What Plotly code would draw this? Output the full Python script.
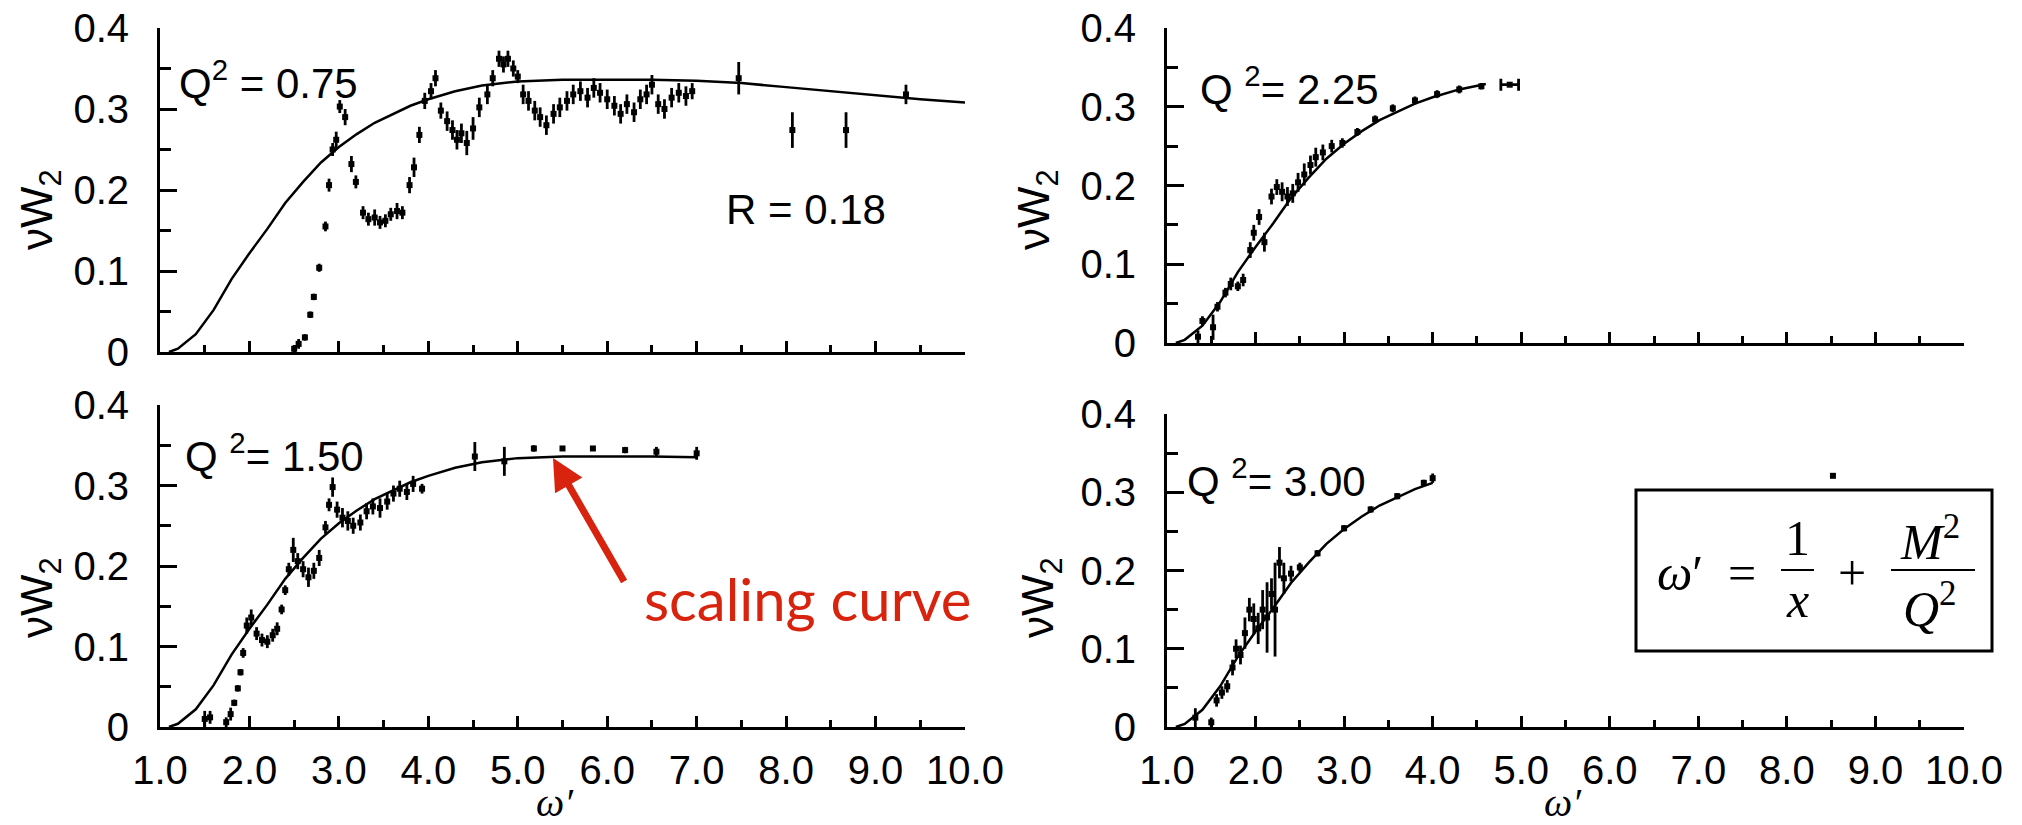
import plotly.graph_objects as go
from plotly.subplots import make_subplots

# universal scaling curve nuW2(omega')
curve_w = [1.10, 1.20, 1.40, 1.60, 1.80, 2.00, 2.20, 2.40, 2.60, 2.80, 3.00, 3.20, 3.40, 3.60,
           3.80, 4.00, 4.30, 4.60, 5.00, 5.50, 6.00, 6.50, 7.00, 7.50, 8.00, 8.50, 9.00, 9.50, 10.00]
curve_f = [0.000, 0.004, 0.022, 0.052, 0.090, 0.122, 0.152, 0.184, 0.210, 0.234, 0.253, 0.269, 0.283, 0.294,
           0.304, 0.312, 0.322, 0.329, 0.334, 0.336, 0.336, 0.336, 0.335, 0.332, 0.327, 0.322, 0.317, 0.312, 0.308]

# Q2 = 0.75
w075 = [2.50, 2.55, 2.62, 2.68, 2.72, 2.78, 2.85, 2.89, 2.93, 2.97, 3.01, 3.07, 3.14, 3.19, 3.27, 3.33,
        3.40, 3.46, 3.52, 3.58, 3.65, 3.71, 3.79, 3.84, 3.90, 3.96, 4.03, 4.08, 4.14, 4.21, 4.27, 4.32,
        4.37, 4.43, 4.50, 4.57, 4.66, 4.72, 4.79, 4.84, 4.89, 4.95, 5.00, 5.06, 5.12, 5.19, 5.25, 5.32,
        5.40, 5.47, 5.55, 5.62, 5.70, 5.78, 5.85, 5.92, 6.00, 6.08, 6.15, 6.22, 6.30, 6.37, 6.44, 6.50,
        6.57, 6.64, 6.72, 6.80, 6.88, 6.95, 7.47, 8.07, 8.67, 9.34]
f075 = [0.004, 0.010, 0.018, 0.046, 0.068, 0.104, 0.155, 0.206, 0.250, 0.262, 0.303, 0.290, 0.232, 0.210,
        0.172, 0.164, 0.166, 0.160, 0.162, 0.170, 0.174, 0.172, 0.206, 0.228, 0.268, 0.310, 0.322, 0.338,
        0.298, 0.285, 0.274, 0.262, 0.270, 0.258, 0.276, 0.302, 0.318, 0.338, 0.362, 0.355, 0.362, 0.350,
        0.340, 0.318, 0.310, 0.298, 0.290, 0.280, 0.294, 0.302, 0.310, 0.318, 0.322, 0.314, 0.326, 0.320,
        0.312, 0.304, 0.294, 0.306, 0.296, 0.312, 0.318, 0.330, 0.306, 0.300, 0.314, 0.320, 0.316, 0.322,
        0.338, 0.274, 0.274, 0.318]
e075 = [0.004, 0.006, 0.004, 0.004, 0.004, 0.005, 0.006, 0.008, 0.008, 0.010, 0.008, 0.010, 0.010, 0.008,
        0.008, 0.008, 0.010, 0.008, 0.008, 0.008, 0.010, 0.008, 0.010, 0.012, 0.010, 0.010, 0.010, 0.010,
        0.010, 0.012, 0.012, 0.012, 0.012, 0.015, 0.014, 0.012, 0.012, 0.010, 0.010, 0.010, 0.010, 0.010,
        0.008, 0.012, 0.012, 0.012, 0.012, 0.012, 0.012, 0.012, 0.012, 0.012, 0.012, 0.012, 0.012, 0.012,
        0.012, 0.012, 0.012, 0.012, 0.012, 0.012, 0.012, 0.012, 0.012, 0.012, 0.012, 0.012, 0.012, 0.010,
        0.020, 0.022, 0.022, 0.012]

# Q2 = 2.25
w225 = [1.35, 1.40, 1.52, 1.57, 1.66, 1.72, 1.80, 1.86, 1.94, 1.98, 2.04, 2.10, 2.18, 2.24, 2.30, 2.36,
        2.42, 2.48, 2.55, 2.62, 2.68, 2.76, 2.86, 2.98, 3.15, 3.35, 3.55, 3.80, 4.05, 4.30, 4.55]
f225 = [0.008, 0.028, 0.020, 0.046, 0.064, 0.075, 0.072, 0.080, 0.118, 0.140, 0.160, 0.128, 0.186, 0.198,
        0.192, 0.186, 0.190, 0.204, 0.214, 0.226, 0.236, 0.242, 0.250, 0.254, 0.268, 0.284, 0.298, 0.308,
        0.316, 0.322, 0.326]
e225 = [0.008, 0.006, 0.016, 0.006, 0.006, 0.008, 0.006, 0.008, 0.010, 0.010, 0.010, 0.012, 0.010, 0.010,
        0.012, 0.012, 0.012, 0.012, 0.014, 0.012, 0.012, 0.010, 0.008, 0.006, 0.005, 0.005, 0.005, 0.005,
        0.005, 0.005, 0.004]
w225_last, f225_last, ex225_last = [4.87], [0.328], [0.10]

# Q2 = 1.50
w150 = [1.50, 1.56, 1.74, 1.79, 1.83, 1.87, 1.90, 1.93, 1.97, 2.02, 2.08, 2.14, 2.20, 2.26, 2.31, 2.36,
        2.40, 2.44, 2.49, 2.54, 2.60, 2.66, 2.72, 2.78, 2.85, 2.89, 2.93, 2.98, 3.04, 3.10, 3.16, 3.24,
        3.31, 3.38, 3.46, 3.54, 3.61, 3.68, 3.76, 3.83, 3.93, 4.52, 4.85, 5.18, 5.50, 5.84, 6.20, 6.55, 7.00]
f150 = [0.010, 0.012, 0.006, 0.016, 0.030, 0.048, 0.068, 0.092, 0.126, 0.136, 0.116, 0.108, 0.106, 0.114,
        0.122, 0.146, 0.170, 0.196, 0.220, 0.206, 0.196, 0.186, 0.194, 0.210, 0.248, 0.276, 0.298, 0.270,
        0.260, 0.256, 0.250, 0.254, 0.268, 0.274, 0.272, 0.280, 0.290, 0.296, 0.292, 0.302, 0.296, 0.336,
        0.330, 0.346, 0.346, 0.346, 0.344, 0.342, 0.340]
e150 = [0.010, 0.008, 0.006, 0.008, 0.004, 0.004, 0.004, 0.006, 0.010, 0.010, 0.008, 0.008, 0.008, 0.008,
        0.008, 0.006, 0.006, 0.008, 0.015, 0.010, 0.010, 0.012, 0.010, 0.010, 0.008, 0.008, 0.012, 0.010,
        0.012, 0.012, 0.010, 0.010, 0.010, 0.010, 0.012, 0.010, 0.010, 0.010, 0.010, 0.010, 0.006, 0.018,
        0.018, 0.004, 0.003, 0.003, 0.004, 0.006, 0.008]

# Q2 = 3.00
w300 = [1.32, 1.50, 1.56, 1.62, 1.68, 1.74, 1.78, 1.83, 1.88, 1.93, 1.98, 2.03, 2.08, 2.13, 2.18, 2.22,
        2.27, 2.32, 2.40, 2.50, 2.70, 3.00, 3.30, 3.60, 3.90, 4.00, 8.52]
f300 = [0.012, 0.006, 0.034, 0.044, 0.052, 0.076, 0.100, 0.092, 0.120, 0.150, 0.138, 0.126, 0.150, 0.140,
        0.170, 0.150, 0.210, 0.190, 0.196, 0.204, 0.222, 0.254, 0.278, 0.295, 0.312, 0.318, 0.321]
e300 = [0.012, 0.006, 0.008, 0.008, 0.008, 0.010, 0.012, 0.012, 0.020, 0.015, 0.020, 0.020, 0.025, 0.045,
        0.020, 0.060, 0.020, 0.020, 0.010, 0.006, 0.004, 0.004, 0.004, 0.004, 0.004, 0.006, 0.0]

panels = [
    # row, col, data x, y, err, where the curve stops
    (1, 1, w075, f075, e075, 10.0),
    (1, 2, w225, f225, e225, 4.75),
    (2, 1, w150, f150, e150, 7.0),
    (2, 2, w300, f300, e300, 4.0),
]

fig = make_subplots(rows=2, cols=2)

for row, col, wx, fy, ey, wend in panels:
    cw = [w for w in curve_w if w <= wend]
    cf = curve_f[:len(cw)]
    fig.add_trace(go.Scatter(x=cw, y=cf, mode='lines', line=dict(color='black', width=2.5),
                             showlegend=False, cliponaxis=False), row=row, col=col)
    fig.add_trace(go.Scatter(x=wx, y=fy, mode='markers',
                             marker=dict(color='black', size=6, symbol='square'),
                             error_y=dict(type='data', array=ey, visible=True, thickness=2.8, width=0, color='black'),
                             showlegend=False, cliponaxis=False), row=row, col=col)

fig.add_trace(go.Scatter(x=w225_last, y=f225_last, mode='markers',
                         marker=dict(color='black', size=6, symbol='square'),
                         error_x=dict(type='data', array=ex225_last, visible=True, thickness=2.8, width=6, color='black'),
                         showlegend=False, cliponaxis=False), row=1, col=2)

W, H = 2022, 825
def px(x): return x / W
def py(y): return 1 - y / H

font_sans = 'Liberation Sans, Arial, sans-serif'
font_serif = 'Liberation Serif, Times New Roman, serif'

xdom = {1: [px(160), px(965)], 2: [px(1167), px(1964)]}
ydom = {(1, 1): [py(352), py(28)], (1, 2): [py(343), py(28)],
        (2, 1): [py(727), py(405)], (2, 2): [py(727), py(414)]}

xlabels = ['1.0', '2.0', '3.0', '4.0', '5.0', '6.0', '7.0', '8.0', '9.0', '10.0']
ylabels = ['0', '0.1', '0.2', '0.3', '0.4']

for row in (1, 2):
    for col in (1, 2):
        fig.update_xaxes(row=row, col=col, domain=xdom[col], range=[1, 10], automargin=False,
                         showline=True, linewidth=3, linecolor='black', showgrid=False, zeroline=False,
                         ticks='inside', ticklen=11, tickwidth=2.5, tickcolor='black',
                         tickvals=[1, 2, 3, 4, 5, 6, 7, 8, 9, 10], ticktext=xlabels, ticklabelstandoff=6,
                         ticklabeloverflow='allow',
                         showticklabels=(row == 2), tickfont=dict(family=font_sans, size=40, color='black'),
                         minor=dict(dtick=0.5, tick0=1, ticks='inside', ticklen=7, tickwidth=2.5, tickcolor='black'))
        fig.update_yaxes(row=row, col=col, domain=ydom[(row, col)], range=[0, 0.4], automargin=False,
                         showline=True, linewidth=3, linecolor='black', showgrid=False, zeroline=False,
                         ticks='inside', ticklen=17, tickwidth=2.5, tickcolor='black',
                         tickvals=[0, 0.1, 0.2, 0.3, 0.4], ticktext=ylabels, ticklabeloverflow='allow',
                         tickfont=dict(family=font_sans, size=40, color='black'), ticklabelstandoff=20,
                         minor=dict(dtick=0.05, tick0=0, ticks='inside', ticklen=11, tickwidth=2.5, tickcolor='black'))

ann = []
# panel labels
for x, y, t in [(177, 80, 'Q<sup>2</sup> = 0.75'), (1198, 86, 'Q <sup>2</sup>= 2.25'),
                (183, 453, 'Q <sup>2</sup>= 1.50'), (1185, 478, 'Q <sup>2</sup>= 3.00')]:
    ann.append(dict(x=px(x), y=py(y), xref='paper', yref='paper', text=t, showarrow=False,
                    xanchor='left', yanchor='middle', font=dict(family=font_sans, size=42, color='black')))
ann.append(dict(x=px(806), y=py(210), xref='paper', yref='paper', text='R = 0.18', showarrow=False,
                xanchor='center', yanchor='middle', font=dict(family=font_sans, size=42, color='black')))
# axis titles
for x, y in [(40, 210), (40, 598), (1037, 210), (1041, 598)]:
    ann.append(dict(x=px(x), y=py(y), xref='paper', yref='paper', text='νW<sub>2</sub>', showarrow=False,
                    textangle=-90, xanchor='center', yanchor='middle',
                    font=dict(family=font_sans, size=44, color='black')))
for x in (555, 1563):
    ann.append(dict(x=px(x), y=py(827), xref='paper', yref='paper', text='<i>ω′</i>', showarrow=False,
                    xanchor='center', yanchor='bottom', font=dict(family=font_serif, size=40, color='black')))
# formula box contents
for x, y, t in [(1680, 573, '<i>ω</i>′'), (1742, 573, '='), (1797, 538, '1'), (1797, 600, '<i>x</i>'),
                (1852, 573, '+'), (1930, 538, '<i>M</i><sup>2</sup>'), (1930, 605, '<i>Q</i><sup>2</sup>')]:
    ann.append(dict(x=px(x), y=py(y), xref='paper', yref='paper', text=t, showarrow=False,
                    xanchor='center', yanchor='middle', font=dict(family=font_serif, size=50, color='black')))
# scaling curve label and arrow
ann.append(dict(x=px(642), y=py(598), xref='paper', yref='paper', text='scaling curve', showarrow=False,
                xanchor='left', yanchor='middle', font=dict(family='Lato, Open Sans, sans-serif', size=58, color='#d8240e')))
ann.append(dict(x=px(553), y=py(458), xref='paper', yref='paper', text='', showarrow=True,
                ax=72, ay=125, arrowhead=2, arrowsize=0.9, arrowwidth=7, arrowcolor='#d8240e', standoff=0))

shapes = [
    dict(type='rect', xref='paper', yref='paper', x0=px(1636), x1=px(1992), y0=py(651), y1=py(490),
         line=dict(color='black', width=3)),
    dict(type='line', xref='paper', yref='paper', x0=px(1781), x1=px(1814), y0=py(570), y1=py(570),
         line=dict(color='black', width=2)),
    dict(type='line', xref='paper', yref='paper', x0=px(1891), x1=px(1975), y0=py(570), y1=py(570),
         line=dict(color='black', width=2)),
]

fig.update_layout(template='none', width=W, height=H, margin=dict(l=0, r=0, t=0, b=0, pad=0),
                  paper_bgcolor='white', plot_bgcolor='white',
                  annotations=ann, shapes=shapes, showlegend=False)

# drop the default page margin so the figure sits at the window corner
fig.write_html("out.html", config={'displayModeBar': False},
               post_script="document.body.style.margin='0';")
